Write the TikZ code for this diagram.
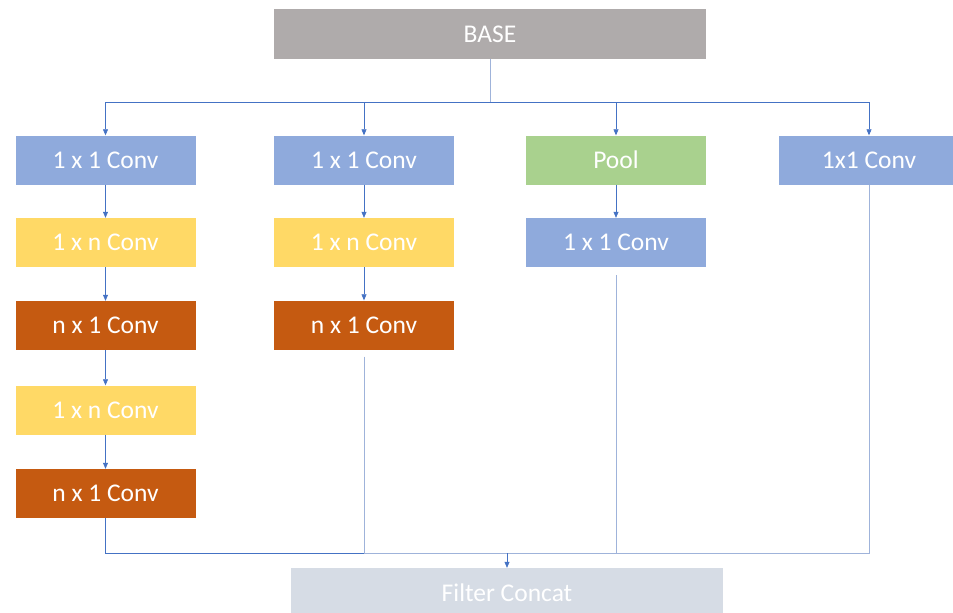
\documentclass[tikz,border=0pt]{standalone}
\usepackage{fontspec}
\setmainfont{Carlito}
\usetikzlibrary{arrows.meta}
\definecolor{cblue}{HTML}{8FAADC}
\definecolor{cyellow}{HTML}{FFD966}
\definecolor{corange}{HTML}{C55A11}
\definecolor{cgreen}{HTML}{A9D18E}
\definecolor{cgray}{HTML}{AFABAB}
\definecolor{clight}{HTML}{D6DCE5}
\definecolor{cline}{HTML}{4472C4}
\definecolor{cpale}{HTML}{9FB3DA}
\begin{document}
\begin{tikzpicture}[x=1pt,y=-1pt,
  box/.style={minimum width=180pt, minimum height=49pt, inner sep=0pt, text=white,
    font=\fontsize{25.5}{30}\selectfont, anchor=center},
  wide/.style={box, minimum width=432pt, minimum height=50pt},
  conn/.style={draw=cline, line width=0.6pt},
  pale/.style={draw=cpale, line width=0.8pt},
  arr/.style={conn, -{Triangle[length=6pt,width=5pt]}}]
\clip (0,0) rectangle (953,613);
\useasboundingbox (0,0) rectangle (953,613);
\fill[white] (0,0) rectangle (953,613);
% nodes
\node[wide, fill=cgray] (base) at (490,34) {BASE};
\node[box, fill=cblue] (a1) at (105.5,160) {1 x 1 Conv};
\node[box, fill=cyellow] (a2) at (105.5,242.5) {1 x n Conv};
\node[box, fill=corange] (a3) at (105.5,325.5) {n x 1 Conv};
\node[box, fill=cyellow] (a4) at (105.5,410) {1 x n Conv};
\node[box, fill=corange] (a5) at (105.5,493.5) {n x 1 Conv};
\node[box, fill=cblue] (b1) at (364,160) {1 x 1 Conv};
\node[box, fill=cyellow] (b2) at (364,242.5) {1 x n Conv};
\node[box, fill=corange] (b3) at (364,325) {n x 1 Conv};
\node[box, fill=cgreen] (c1) at (616,160) {Pool};
\node[box, fill=cblue] (c2) at (616,242.5) {1 x 1 Conv};
\node[box, fill=cblue] (d1) at (869,160) {1x1 Conv};
\node[wide, fill=clight] (fc) at (507,593) {Filter Concat};
\coordinate (top) at (490,102);
\coordinate (bot) at (507,553);
% connectors
\draw[pale] (base.south) -- (top);
\draw[arr] (top) -| (a1.north);
\draw[arr] (top) -| (b1.north);
\draw[arr] (top) -| (c1.north);
\draw[arr] (top) -| (d1.north);
\draw[arr] (a1) -- (a2);
\draw[arr] (a2) -- (a3);
\draw[arr] (a3) -- (a4);
\draw[arr] (a4) -- (a5);
\draw[arr] (b1) -- (b2);
\draw[arr] (b2) -- (b3);
\draw[arr] (c1) -- (c2);
\draw[conn] (a5.south) |- (bot);
\draw[pale, shorten <=7pt] (b3.south) |- (bot);
\draw[pale, shorten <=8pt] (c2.south) |- (bot);
\draw[pale] (d1.south) |- (bot);
\draw[arr] (bot) -- (fc.north);
\end{tikzpicture}
\end{document}
